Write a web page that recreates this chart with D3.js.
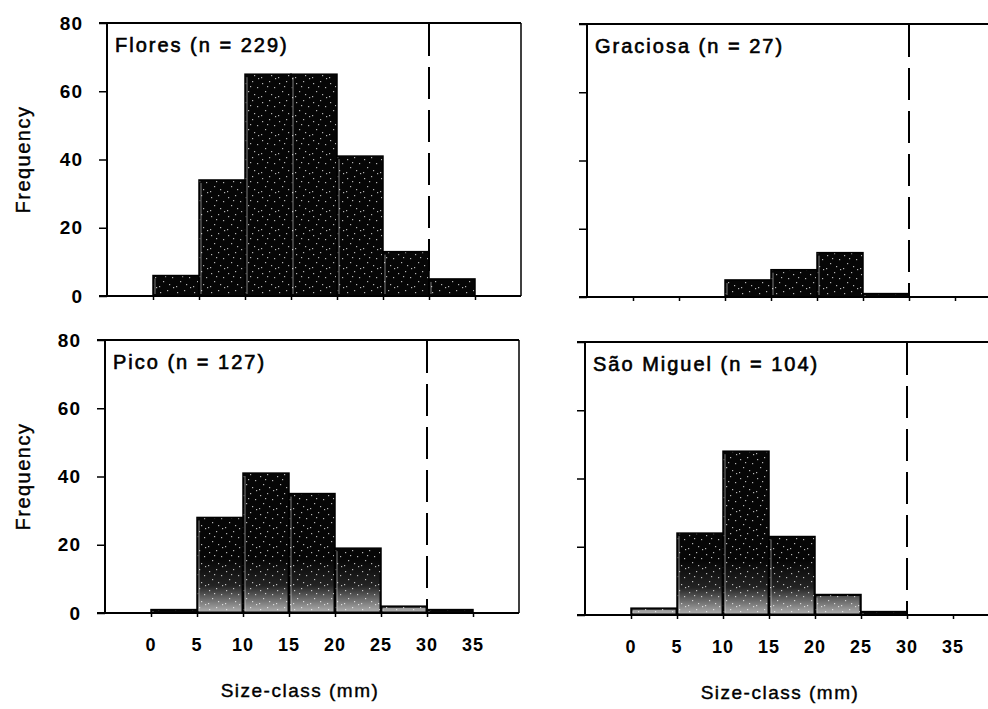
<!DOCTYPE html>
<html>
<head>
<meta charset="utf-8">
<script src="https://cdn.jsdelivr.net/npm/d3@7"></script>
<style>
    body { margin: 0; background: #fff; }
    svg { display: block; }
    text { font-family: "Liberation Sans", Arial, sans-serif; fill: #000; }
</style>
</head>
<body>
<svg id="chart" width="988" height="709"></svg>
<script>
// size classes (mm), lower edge of each 5 mm bin
const binStarts = [0, 5, 10, 15, 20, 25, 30]
const binWidth = 5
const xTicks = [0, 5, 10, 15, 20, 25, 30, 35]
const yTicks = [0, 20, 40, 60, 80]
const cutoff = 30

const floresCounts = [6, 34, 65, 65, 41, 13, 5]
const graciosaCounts = [0, 0, 5, 8, 13, 1, 0]
const picoCounts = [1, 28, 41, 35, 19, 2, 1]
const saoMiguelCounts = [2, 24, 48, 23, 6, 1, 0]

const panelNames = ["Flores", "Graciosa", "Pico", "São Miguel"]
const panelTotals = [229, 27, 127, 104]

const panelW = 414
const panelH = 273

const panels = [
    {name: panelNames[0], n: panelTotals[0], counts: floresCounts, left: 107, top: 23, yLabels: true, xLabels: false, faded: false},
    {name: panelNames[1], n: panelTotals[1], counts: graciosaCounts, left: 587, top: 24, yLabels: false, xLabels: false, faded: false},
    {name: panelNames[2], n: panelTotals[2], counts: picoCounts, left: 105, top: 340, yLabels: true, xLabels: true, faded: true},
    {name: panelNames[3], n: panelTotals[3], counts: saoMiguelCounts, left: 585, top: 342, yLabels: false, xLabels: true, faded: true}
]

const svg = d3.select("#chart")
const defs = svg.append("defs")

// speckle texture like the scanned print
const speckle = defs.append("pattern")
    .attr("id", "speckle")
    .attr("patternUnits", "userSpaceOnUse")
    .attr("width", 17)
    .attr("height", 19)
speckle.append("rect").attr("width", 17).attr("height", 19).attr("fill", "#060606")
const dots = [[2, 3], [9, 1], [14, 7], [5, 11], [11, 14], [1, 16], [7, 6], [15, 17]]
speckle.selectAll("rect.dot")
    .data(dots)
    .enter()
    .append("rect")
    .attr("class", "dot")
    .attr("x", d => d[0])
    .attr("y", d => d[1])
    .attr("width", 1.2)
    .attr("height", 1.2)
    .attr("fill", "#fff")
    .attr("opacity", 0.7)

function drawPanel(p, i) {
    const x = d3.scaleLinear().domain([-5, 40]).range([0, panelW])
    const y = d3.scaleLinear().domain([0, 80]).range([panelH, 0])

    const g = svg.append("g").attr("transform", `translate(${p.left},${p.top})`)

    if (p.faded) {
        // scanned print washes out towards the bottom of these panels
        const grad = defs.append("linearGradient")
            .attr("id", "fade" + i)
            .attr("gradientUnits", "userSpaceOnUse")
            .attr("x1", 0).attr("x2", 0)
            .attr("y1", y(16)).attr("y2", y(0))
        grad.append("stop").attr("offset", "0%").attr("stop-color", "#fff").attr("stop-opacity", 0)
        grad.append("stop").attr("offset", "50%").attr("stop-color", "#fff").attr("stop-opacity", 0.12)
        grad.append("stop").attr("offset", "100%").attr("stop-color", "#fff").attr("stop-opacity", 0.7)
    }

    const bars = binStarts.map((s, k) => ({lo: s, hi: s + binWidth, v: p.counts[k]}))
        .filter(d => d.v > 0)

    g.selectAll("rect.bar")
        .data(bars)
        .enter()
        .append("rect")
        .attr("class", "bar")
        .attr("x", d => x(d.lo))
        .attr("y", d => y(d.v))
        .attr("width", d => x(d.hi) - x(d.lo))
        .attr("height", d => y(0) - y(d.v))
        .attr("fill", "url(#speckle)")
        .attr("stroke", "#000")
        .attr("stroke-width", 1.5)

    if (p.faded) {
        g.selectAll("rect.fade")
            .data(bars.filter(d => y(0) - y(d.v) > 4))
            .enter()
            .append("rect")
            .attr("class", "fade")
            .attr("x", d => x(d.lo) + 1.5)
            .attr("y", d => y(d.v) + 1.5)
            .attr("width", d => x(d.hi) - x(d.lo) - 3)
            .attr("height", d => y(0) - y(d.v) - 3)
            .attr("fill", `url(#fade${i})`)
    }

    // thin light seams between bars
    g.selectAll("line.seam")
        .data(bars)
        .enter()
        .append("line")
        .attr("class", "seam")
        .attr("x1", d => x(d.lo) + 2)
        .attr("x2", d => x(d.lo) + 2)
        .attr("y1", d => y(d.v) + 3)
        .attr("y2", y(0) - 2)
        .attr("stroke", "#fff")
        .attr("stroke-width", 0.8)
        .attr("opacity", 0.6)

    // frame
    g.append("line")
        .attr("x1", -8).attr("x2", panelW)
        .attr("y1", 0).attr("y2", 0)
        .attr("stroke", "#000").attr("stroke-width", 2)
    g.append("line")
        .attr("x1", panelW).attr("x2", panelW)
        .attr("y1", 0).attr("y2", panelH)
        .attr("stroke", "#000").attr("stroke-width", 1.5)
    g.append("line")
        .attr("x1", 0).attr("x2", 0)
        .attr("y1", 0).attr("y2", panelH)
        .attr("stroke", "#000").attr("stroke-width", 2)
    g.append("line")
        .attr("x1", -8).attr("x2", panelW)
        .attr("y1", panelH).attr("y2", panelH)
        .attr("stroke", "#000").attr("stroke-width", 2)

    // cut-off line at 30 mm
    g.append("line")
        .attr("x1", x(cutoff)).attr("x2", x(cutoff))
        .attr("y1", 1).attr("y2", panelH)
        .attr("stroke", "#000")
        .attr("stroke-width", 2)
        .attr("stroke-dasharray", "32,11")

    // y axis
    const yAxis = g.append("g")
        .call(d3.axisLeft(y).tickValues(yTicks).tickSize(8).tickPadding(16)
            .tickFormat(p.yLabels ? d3.format("d") : () => ""))
    yAxis.select(".domain").remove()
    yAxis.selectAll("line").attr("stroke", "#000").attr("stroke-width", 1.5)
    yAxis.selectAll("text")
        .attr("font-size", 19)
        .attr("font-weight", "bold")
        .attr("letter-spacing", 1)
        .attr("font-family", "'Liberation Sans', Arial, sans-serif")

    // x axis ticks
    const xAxis = g.append("g")
        .attr("transform", `translate(0,${panelH})`)
        .call(d3.axisBottom(x).tickValues(xTicks).tickSize(4).tickFormat(() => ""))
    xAxis.select(".domain").remove()
    xAxis.selectAll("line").attr("stroke", "#000").attr("stroke-width", 1.5)

    if (p.xLabels) {
        g.selectAll("text.xlab")
            .data(xTicks)
            .enter()
            .append("text")
            .attr("class", "xlab")
            .attr("x", d => x(d))
            .attr("y", panelH + 38)
            .attr("text-anchor", "middle")
            .attr("font-size", 18)
            .attr("font-weight", "bold")
            .attr("letter-spacing", 1)
            .text(d => d)

        g.append("text")
            .attr("x", x(17.5) - 12)
            .attr("y", panelH + 84)
            .attr("text-anchor", "middle")
            .attr("font-size", 19)
            .attr("letter-spacing", 1.5)
            .attr("stroke", "#000")
            .attr("stroke-width", 0.4)
            .text("Size-class (mm)")
    }

    if (p.yLabels) {
        g.append("text")
            .attr("transform", `translate(${-p.left + 30},${panelH / 2}) rotate(-90)`)
            .attr("text-anchor", "middle")
            .attr("font-size", 20)
            .attr("letter-spacing", 1.5)
            .attr("stroke", "#000")
            .attr("stroke-width", 0.4)
            .text("Frequency")
    }

    g.append("text")
        .attr("x", 8)
        .attr("y", 29)
        .attr("font-size", 20)
        .attr("letter-spacing", 2)
        .attr("stroke", "#000")
        .attr("stroke-width", 0.6)
        .text(`${p.name} (n = ${p.n})`)
}

panels.forEach(drawPanel)
</script>
</body>
</html>
